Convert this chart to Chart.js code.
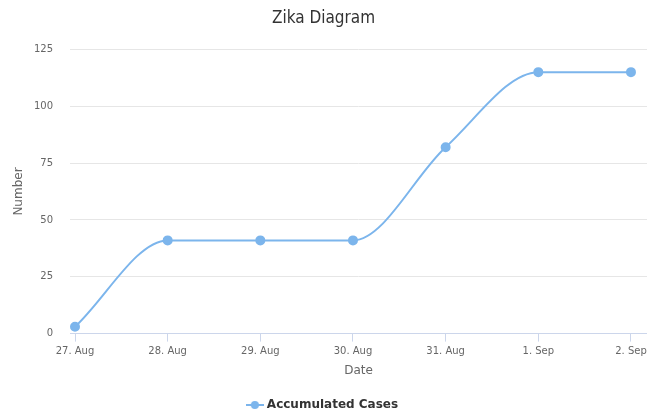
<!DOCTYPE html>
<html>
<head>
<meta charset="utf-8">
<script src="https://cdn.jsdelivr.net/npm/chart.js@4/dist/chart.umd.min.js"></script>
<style>
  html, body { margin: 0; padding: 0; background: #fff; }
  #wrap { width: 647px; height: 412px; position: relative; }
</style>
</head>
<body>
<div id="wrap"><canvas id="zikaChart"></canvas></div>
<script>
// DATA
const dates = ["27. Aug", "28. Aug", "29. Aug", "30. Aug", "31. Aug", "1. Sep", "2. Sep"];
const cases = [3, 41, 41, 41, 82, 115, 115];
const yTicks = [0, 25, 50, 75, 100, 125];

const blue = "#7cb5ec";
const font = "'DejaVu Sans', sans-serif";
const narrow = "'DejaVu Sans Condensed', 'DejaVu Sans', sans-serif";

// legend symbol: line with dot
const sym = document.createElement("canvas");
sym.width = 18; sym.height = 10;
const sc = sym.getContext("2d");
sc.strokeStyle = blue; sc.lineWidth = 2;
sc.beginPath(); sc.moveTo(0, 5); sc.lineTo(18, 5); sc.stroke();
sc.fillStyle = blue;
sc.beginPath(); sc.arc(9, 5, 4, 0, Math.PI * 2); sc.fill();

const ctx = document.getElementById("zikaChart");

new Chart(ctx, {
  type: "line",
  data: {
    datasets: [{
      label: "Accumulated Cases",
      data: cases.map((v, i) => ({ x: i, y: v })),
      borderColor: blue,
      backgroundColor: blue,
      borderWidth: 2,
      pointRadius: 4,
      pointHoverRadius: 4,
      cubicInterpolationMode: "monotone",
      fill: false
    }]
  },
  options: {
    responsive: true,
    maintainAspectRatio: false,
    animation: false,
    layout: { autoPadding: false, padding: { top: 0, left: 0, right: 0, bottom: -9 } },
    plugins: {
      title: {
        display: true,
        text: "Zika Diagram",
        color: "#333",
        font: { family: narrow, size: 17, weight: "normal" },
        padding: { top: 8, bottom: 21 }
      },
      legend: {
        position: "bottom",
        labels: {
          usePointStyle: true,
          pointStyle: sym,
          color: "#333",
          font: { family: font, size: 12, weight: "bold" },
          padding: 0
        }
      },
      tooltip: { enabled: false }
    },
    scales: {
      x: {
        type: "linear",
        min: -0.054,
        max: 6.173,
        afterBuildTicks: (s) => { s.ticks = dates.map((d, i) => ({ value: i })); },
        afterFit: (s) => { s.paddingLeft = 0; s.paddingRight = 0; },
        ticks: {
          callback: (v, i) => dates[i],
          autoSkip: false,
          maxRotation: 0,
          color: "#666",
          font: { family: font, size: 10 },
          padding: 4
        },
        grid: { drawOnChartArea: false, tickLength: 8, color: "#ccd6eb" },
        border: { color: "#ccd6eb" },
        title: {
          display: true,
          text: "Date",
          color: "#666",
          font: { family: font, size: 12 },
          padding: { top: 2, bottom: 21 }
        }
      },
      y: {
        min: 0,
        max: 125,
        afterBuildTicks: (s) => { s.ticks = yTicks.map(v => ({ value: v })); },
        afterFit: (s) => { s.width = 70; },
        ticks: {
          color: "#666",
          font: { family: font, size: 10 },
          padding: 17
        },
        grid: { color: "#e6e6e6", drawTicks: false },
        border: { display: false },
        title: {
          display: true,
          text: "Number",
          color: "#666",
          font: { family: font, size: 12 },
          padding: { top: 12, bottom: 0 }
        }
      }
    }
  }
});
</script>
</body>
</html>
